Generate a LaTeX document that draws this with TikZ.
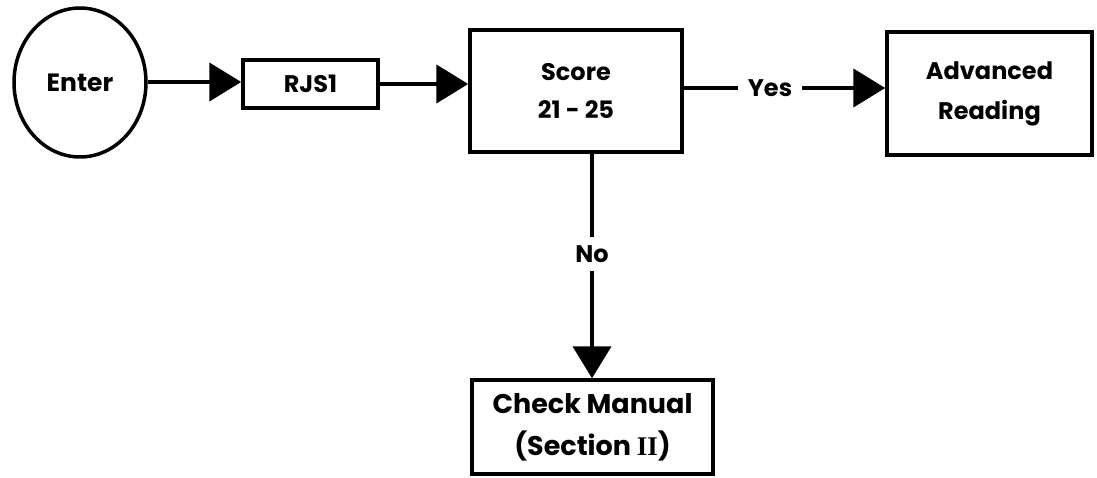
\documentclass[tikz,border=0pt]{standalone}
\usepackage{fontspec}
\setmainfont{Poppins}
\newfontfamily\romanfont{Liberation Serif}
\usetikzlibrary{arrows.meta,shapes.geometric}
\tikzset{
  box/.style={draw, line width=3.5pt, rectangle, inner sep=0pt, align=center,
              font=\fontsize{24}{38}\selectfont\bfseries},
  lbl/.style={inner xsep=10pt, inner ysep=8pt, font=\fontsize{24}{30}\selectfont\bfseries},
  flow/.style={line width=4.5pt, -{Triangle[length=32pt,width=38pt]}},
  plain/.style={line width=4.5pt}
}
\begin{document}
\begin{tikzpicture}[x=1pt,y=-1pt]
\useasboundingbox (0,0) rectangle (1097,477);
\node[draw, ellipse, line width=3.5pt, minimum width=132pt, minimum height=149pt, inner sep=0pt,
      font=\fontsize{25}{30}\selectfont\bfseries] (enter) at (80,82.5) {Enter};
\node[box, minimum width=135pt, minimum height=48pt] (rjs) at (310.5,84) {RJS1};
\node[box, minimum width=212pt, minimum height=122pt] (score) at (576,91) {Score\\21 - 25};
\node[box, minimum width=205pt, minimum height=123pt, font=\fontsize{24}{40}\selectfont\bfseries]
      (adv) at (989.5,93.5) {Advanced\\Reading};
\node[box, minimum width=241pt, minimum height=94pt, font=\fontsize{27}{42}\selectfont\bfseries]
      (check) at (592.5,427) {Check Manual\\(Section {\romanfont\bfseries II})};
\node[lbl] (yes) at (770,88) {Yes};
\node[lbl] (no) at (592,254) {No};
\draw[flow] (enter.east |- 0,82) -- (rjs.west |- 0,82);
\draw[flow] (rjs.east) -- (rjs.east -| score.west);
\draw[plain] (score.east |- yes) -- (yes.west);
\draw[flow] (yes.east) -- (yes -| adv.west);
\draw[plain] (no |- score.south) -- (no.north);
\draw[flow] (no.south) -- (no |- check.north);
\end{tikzpicture}
\end{document}
